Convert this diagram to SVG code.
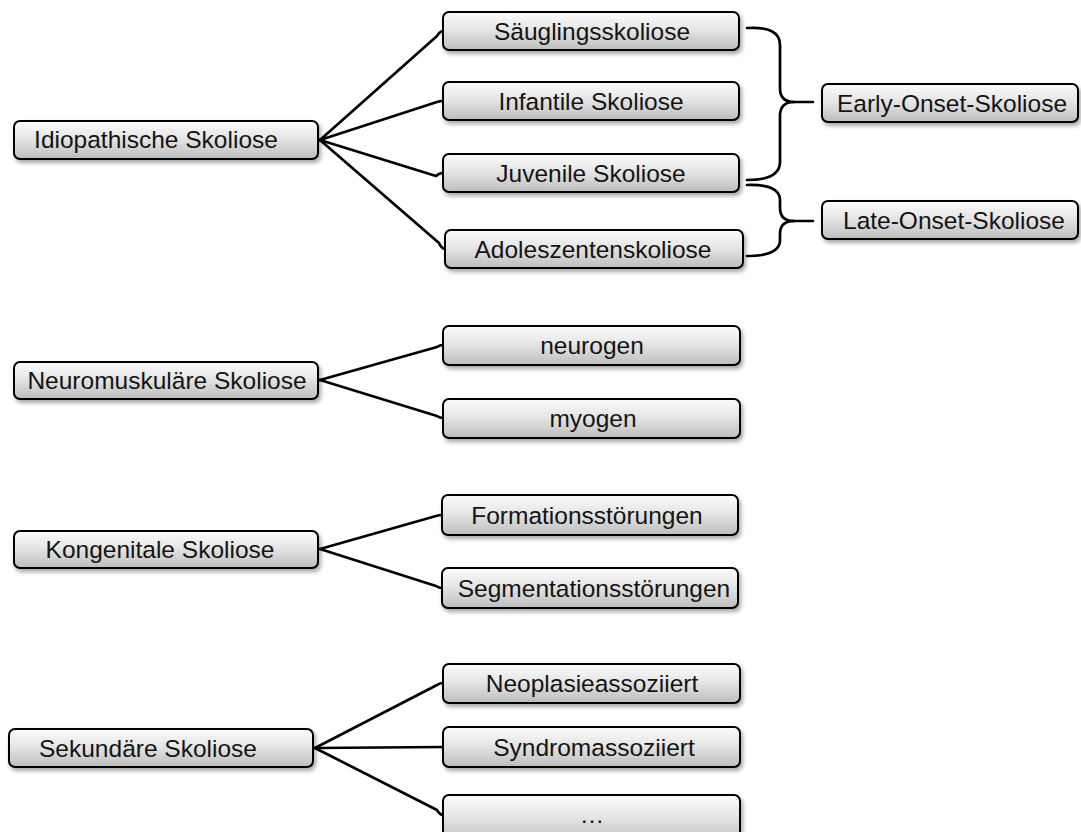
<svg xmlns="http://www.w3.org/2000/svg" width="1081" height="832" viewBox="0 0 1081 832">
<defs>
<linearGradient id="g" x1="0" y1="0" x2="0" y2="1">
<stop offset="0" stop-color="#fbfbfb"/>
<stop offset="0.45" stop-color="#e6e6e6"/>
<stop offset="1" stop-color="#bdbdbd"/>
</linearGradient>
<filter id="sh" x="-10%" y="-30%" width="125%" height="170%">
<feDropShadow dx="2" dy="3" stdDeviation="2" flood-color="#000" flood-opacity="0.35"/>
</filter>
</defs>
<style>
.box{fill:url(#g);stroke:#000;stroke-width:2;filter:url(#sh)}
.t{font-family:"Liberation Sans",Arial,sans-serif;font-size:24.5px;fill:#141414;text-anchor:middle}
.c{fill:none;stroke:#000;stroke-width:2.7;stroke-linecap:round;stroke-linejoin:round}
</style>
<rect width="1081" height="832" fill="#fff"/>
<g id="connectors">
<path class="c" d="M320,140 L437,36 Q439,32 443,31"/>
<path class="c" d="M320,140 L437,102 Q440,101 443,101"/>
<path class="c" d="M320,140 L436,176 Q439,173 443,173"/>
<path class="c" d="M320,140 L439,243 Q441,248 445,249"/>
<path class="c" d="M320,380 L437,347 Q440,345 443,345"/>
<path class="c" d="M320,380 L437,416 Q440,418 443,418"/>
<path class="c" d="M320,549 L436,516 Q439,515 442,515"/>
<path class="c" d="M320,549 L436,586 Q439,588 442,588"/>
<path class="c" d="M315,748 L437,685 Q440,683 443,683"/>
<path class="c" d="M315,748 L443,747"/>
<path class="c" d="M315,748 L437,810 Q440,815 443,815"/>
<path class="c" d="M747,28 Q780,26 780,45 L780,88 Q780,102 794,102 Q780,102 780,116 L780,162 Q780,180 747,180"/>
<path class="c" d="M792,102 L813,102"/>
<path class="c" d="M747,185 Q780,184 780,200 L780,208 Q780,221 794,221 Q780,221 780,234 L780,240 Q780,256 747,256"/>
<path class="c" d="M792,221 L813,221"/>
</g>
<g id="idiopathische"><rect class="box" x="14" y="121" width="304" height="38" rx="6"/><text class="t" x="156" y="148">Idiopathische Skoliose</text></g>
<g id="saeuglings"><rect class="box" x="443" y="12" width="296" height="38" rx="6"/><text class="t" x="592" y="40">Säuglingsskoliose</text></g>
<g id="infantile"><rect class="box" x="443" y="82" width="296" height="38" rx="6"/><text class="t" x="591" y="110">Infantile Skoliose</text></g>
<g id="juvenile"><rect class="box" x="443" y="154" width="296" height="38" rx="6"/><text class="t" x="591" y="182">Juvenile Skoliose</text></g>
<g id="adoleszenten"><rect class="box" x="445" y="230" width="298" height="38" rx="6"/><text class="t" x="593" y="258">Adoleszentenskoliose</text></g>
<g id="early"><rect class="box" x="822" y="84" width="256" height="38" rx="6"/><text class="t" x="952" y="112">Early-Onset-Skoliose</text></g>
<g id="late"><rect class="box" x="822" y="201" width="256" height="38" rx="6"/><text class="t" x="954" y="229">Late-Onset-Skoliose</text></g>
<g id="neuromuskulaer"><rect class="box" x="14" y="362" width="304" height="37" rx="6"/><text class="t" x="167" y="389">Neuromuskuläre Skoliose</text></g>
<g id="neurogen"><rect class="box" x="443" y="326" width="297" height="39" rx="6"/><text class="t" x="592" y="354">neurogen</text></g>
<g id="myogen"><rect class="box" x="443" y="399" width="297" height="39" rx="6"/><text class="t" x="593" y="427">myogen</text></g>
<g id="kongenitale"><rect class="box" x="14" y="531" width="304" height="37" rx="6"/><text class="t" x="160" y="558">Kongenitale Skoliose</text></g>
<g id="formations"><rect class="box" x="442" y="495" width="296" height="40" rx="6"/><text class="t" x="587" y="524">Formationsstörungen</text></g>
<g id="segmentations"><rect class="box" x="442" y="568" width="296" height="40" rx="6"/><text class="t" x="594" y="597">Segmentationsstörungen</text></g>
<g id="sekundaere"><rect class="box" x="9" y="729" width="304" height="38" rx="6"/><text class="t" x="148" y="757">Sekundäre Skoliose</text></g>
<g id="neoplasie"><rect class="box" x="443" y="664" width="297" height="39" rx="6"/><text class="t" x="592" y="692">Neoplasieassoziiert</text></g>
<g id="syndrom"><rect class="box" x="443" y="727" width="297" height="40" rx="6"/><text class="t" x="594" y="756">Syndromassoziiert</text></g>
<g id="more"><rect class="box" x="443" y="795" width="297" height="48" rx="6"/><text class="t" x="592" y="823">…</text></g>
</svg>
